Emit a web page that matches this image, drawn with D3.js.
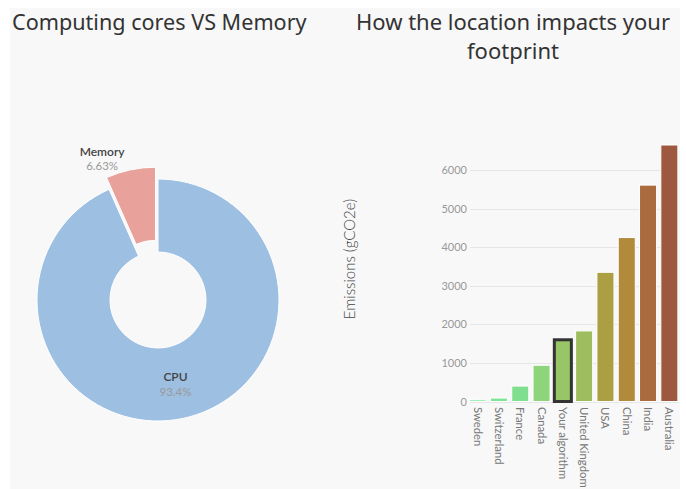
<!DOCTYPE html>
<html><head><meta charset="utf-8">
<script src="https://cdn.jsdelivr.net/npm/d3@7"></script>
<style>body{margin:0;background:#fff}svg{display:block}</style>
</head><body>
<svg id="c" width="686" height="489"></svg>
<script>
const pieLabels = ["CPU", "Memory"];
const pieValues = [93.37, 6.63];
const pieText = ["93.4%", "6.63%"];
const pieColors = ["#9dbfe1", "#e8a19b"];

const countries = ["Sweden","Switzerland","France","Canada","Your algorithm","United Kingdom","USA","China","India","Australia"];
const emissions = [45, 90, 400, 940, 1600, 1830, 3350, 4250, 5610, 6650];
const barColors = ["#7fe8a0","#7fe596","#80df8e","#8ed47b","#98c666","#9dbd5e","#ab9e43","#b18a3c","#aa6c3f","#9f5840"];
const yTicks = [0,1000,2000,3000,4000,5000,6000];

const svg = d3.select("#c");
svg.append("rect").attr("x",10).attr("y",8).attr("width",670).attr("height",490).attr("fill","#f8f8f8");

const titleFont = "'Noto Sans', sans-serif";
svg.append("text").attr("x",12).attr("y",30).attr("font-family",titleFont).attr("font-size",21.6)
  .attr("fill","#333").text("Computing cores VS Memory");
const t2 = svg.append("text").attr("text-anchor","middle").attr("font-family",titleFont).attr("font-size",22).attr("fill","#333");
t2.append("tspan").attr("x",513).attr("y",30).text("How the location impacts your");
t2.append("tspan").attr("x",513).attr("y",59).text("footprint");

// Pie
const cx = 158, cy = 300, rO = 121, rI = 48, explode = 12;
const pie = d3.pie().sort(null).value(d=>d);
const arcs = pie(pieValues);
const arc = d3.arc().innerRadius(rI).outerRadius(rO);
const g = svg.append("g").attr("transform",`translate(${cx},${cy})`);
arcs.forEach((a,i)=>{
  let tx=0, ty=0;
  if(i===1){ const m=(a.startAngle+a.endAngle)/2; tx=Math.sin(m)*explode; ty=-Math.cos(m)*explode; }
  g.append("path").attr("d",arc(a)).attr("transform",`translate(${tx},${ty})`)
    .attr("fill",pieColors[i]).attr("stroke","#fff").attr("stroke-width",1);
});
const lblFont = "Lato, 'Open Sans', sans-serif";
{
  const c = arc.centroid(arcs[0]);
  g.append("text").attr("x",c[0]).attr("y",c[1]-2).attr("text-anchor","middle").attr("font-family",lblFont)
    .attr("font-size",12).attr("font-weight",600).attr("fill","#444").text(pieLabels[0]);
  g.append("text").attr("x",c[0]).attr("y",c[1]+13).attr("text-anchor","middle").attr("font-family",lblFont)
    .attr("font-size",11.5).attr("fill","#999").text(pieText[0]);
}
{
  const ang = arcs[1].startAngle + 0.04, r = 152;
  const x = Math.sin(ang)*r, y = -Math.cos(ang)*r;
  g.append("text").attr("x",x).attr("y",y-3).attr("text-anchor","middle").attr("font-family",lblFont)
    .attr("font-size",12).attr("font-weight",600).attr("fill","#444").text(pieLabels[1]);
  g.append("text").attr("x",x).attr("y",y+11).attr("text-anchor","middle").attr("font-family",lblFont)
    .attr("font-size",11.5).attr("fill","#999").text(pieText[1]);
}

// Bar chart
const x = d3.scaleBand().domain(countries).range([467,680]).paddingInner(0.2).paddingOuter(0.1);
const y = d3.scaleLinear().domain([0,6650]).range([401.5,145]);
const bg = svg.append("g");
bg.selectAll("line.grid").data(yTicks).join("line").attr("class","grid")
  .attr("x1",470).attr("x2",679).attr("y1",d=>Math.round(y(d))+0.5).attr("y2",d=>Math.round(y(d))+0.5)
  .attr("stroke","#e6e6e6");
const yAxis = svg.append("g").attr("transform","translate(470,0)")
  .call(d3.axisLeft(y).tickValues(yTicks).tickSize(0).tickPadding(3).tickFormat(d3.format("d")));
yAxis.select(".domain").remove();
yAxis.selectAll("text").attr("font-family",lblFont).attr("font-size",11).attr("fill","#999");

bg.selectAll("rect.bar").data(countries).join("rect").attr("class","bar")
  .attr("x",d=>x(d)).attr("width",x.bandwidth())
  .attr("y",(d,i)=>y(emissions[i])).attr("height",(d,i)=>y(0)-y(emissions[i]))
  .attr("fill",(d,i)=>barColors[i])
  .attr("stroke",d=>d==="Your algorithm"?"#333":"#fff")
  .attr("stroke-width",d=>d==="Your algorithm"?3:1);

const xl = svg.append("g");
xl.selectAll("text").data(countries).join("text")
  .attr("transform",d=>`translate(${x(d)+x.bandwidth()/2-4},407) rotate(90)`)
  .attr("font-family",lblFont).attr("font-size",11.3).attr("fill","#777").text(d=>d);

svg.append("text").attr("transform","translate(355,259) rotate(-90)").attr("text-anchor","middle")
  .attr("font-family",lblFont).attr("font-size",15).attr("font-weight",300).attr("fill","#444").text("Emissions (gCO2e)");
</script>
</body></html>
